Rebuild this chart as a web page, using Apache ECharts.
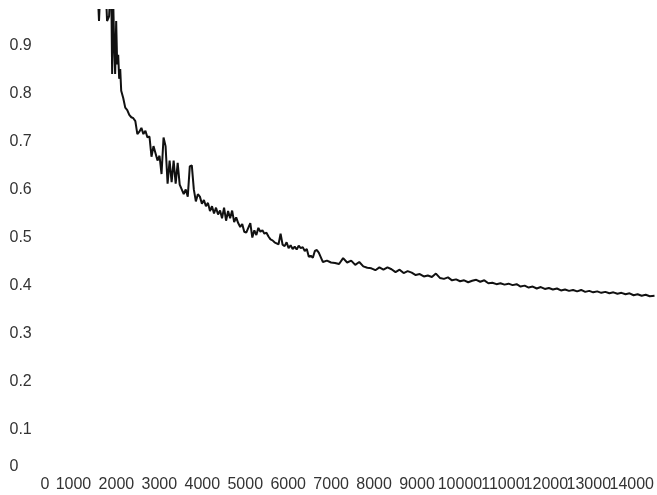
<!DOCTYPE html>
<html>
<head>
<meta charset="utf-8">
<style>
html,body{margin:0;padding:0;background:#fff;}
#chart{width:657px;height:495px;}
</style>
<script src="https://cdn.jsdelivr.net/npm/echarts@6/dist/echarts.min.js"></script>
</head>
<body>
<div id="chart"></div>
<script>
// x values (iterations)
const xValues = [
  1454,1548,1595,1642,1689,1736,1783,1830,1877,1901,1924,1948,1971,1995,2018,2042,2065,2089,
  2112,2159,2206,2253,2300,2347,2394,2441,2488,2535,2582,2629,2676,2723,2770,2817,2864,2911,
  2957,3004,3051,3098,3145,3192,3239,3286,3333,3380,3427,3474,3521,3568,3615,3662,3709,3756,
  3803,3850,3897,3944,3991,4038,4085,4132,4179,4226,4273,4320,4367,4414,4460,4507,4554,4601,
  4648,4695,4742,4789,4836,4883,4930,4977,5024,5071,5118,5165,5212,5259,5306,5353,5400,5447,
  5494,5541,5588,5635,5682,5729,5776,5823,5870,5917,5963,6010,6057,6104,6151,6198,6245,6292,
  6339,6386,6433,6480,6527,6574,6621,6668,6715,
  6809,6903,6997,7091,7185,7279,7373,7467,7561,7655,7749,7842,7936,8030,8124,8218,8312,8406,
  8500,8594,8688,8782,8876,8970,9064,9158,9252,9346,9440,9533,9627,9721,9815,9909,10003,
  10097,10191,10285,10379,10473,10567,10661,10755,10849,10943,11037,11131,11225,11319,11412,
  11506,11600,11694,11788,11882,11976,12070,12164,12258,12352,12446,12540,12634,12728,12822,
  12916,13010,13103,13197,13291,13385,13479,13573,13667,13761,13855,13949,14043,14137,14231,
  14325,14419,14530
];
// error values
const yValues = [
  1.15,1.05,0.95,1.05,1.1,1.05,0.95,0.96,1.05,0.84,1.0,0.9,0.84,0.95,0.86,0.88,0.83,0.85,
  0.805,0.79,0.77,0.765,0.755,0.75,0.748,0.742,0.715,0.72,0.728,0.715,0.722,0.708,0.71,0.668,0.69,0.675,
  0.66,0.67,0.632,0.708,0.69,0.612,0.66,0.615,0.66,0.612,0.655,0.61,0.60,0.59,0.60,0.585,0.648,0.65,
  0.60,0.575,0.59,0.585,0.57,0.578,0.565,0.572,0.555,0.565,0.55,0.562,0.548,0.556,0.54,0.562,0.535,0.555,
  0.54,0.556,0.532,0.542,0.53,0.522,0.528,0.512,0.51,0.52,0.53,0.5,0.515,0.505,0.52,0.512,0.515,0.508,
  0.51,0.502,0.496,0.494,0.49,0.488,0.486,0.508,0.485,0.482,0.49,0.478,0.484,0.476,0.481,0.475,0.483,0.478,
  0.48,0.472,0.476,0.46,0.462,0.458,0.472,0.474,0.468,
  0.449,0.452,0.448,0.447,0.445,0.457,0.448,0.452,0.443,0.449,0.44,0.437,0.436,0.432,0.438,0.433,0.438,0.434,
  0.428,0.433,0.426,0.43,0.427,0.422,0.424,0.419,0.421,0.418,0.425,0.416,0.414,0.417,0.411,0.413,0.409,
  0.411,0.407,0.41,0.412,0.408,0.411,0.405,0.406,0.403,0.405,0.402,0.404,0.401,0.403,0.398,
  0.4,0.396,0.398,0.394,0.397,0.393,0.395,0.392,0.394,0.39,0.392,0.389,0.391,0.388,0.391,
  0.387,0.389,0.386,0.388,0.385,0.387,0.384,0.386,0.383,0.385,0.382,0.384,0.38,0.382,0.379,
  0.381,0.378,0.379
];
const xTickStep = 1000;
const yTickStep = 0.1;

const chart = echarts.init(document.getElementById('chart'), null, {renderer: 'canvas'});
const labelFont = {
  fontFamily: "'Liberation Sans Narrow', 'Liberation Sans', Arial, sans-serif",
  fontSize: 16,
  color: '#333'
};
chart.setOption({
  animation: false,
  backgroundColor: '#fff',
  grid: {left: 30.5, right: 0, top: 10, bottom: 17, containLabel: false},
  xAxis: {
    type: 'value', min: 0, max: 14533, interval: xTickStep,
    axisLine: {show: false}, axisTick: {show: false}, splitLine: {show: false},
    axisLabel: Object.assign({}, labelFont, {margin: -1, showMaxLabel: false,
      formatter: v => v === 0 ? '{z|0}' : String(v),
      rich: {z: Object.assign({}, labelFont, {padding: [0, 0, 0, 29]})}
    })
  },
  yAxis: {
    type: 'value', min: 0, max: 0.973, interval: yTickStep,
    axisLine: {show: false}, axisTick: {show: false}, splitLine: {show: false},
    axisLabel: Object.assign({}, labelFont, {align: 'left', margin: 21, showMaxLabel: false,
      formatter: v => v === 0 ? '{z|0}' : String(Math.round(v * 10) / 10),
      rich: {z: Object.assign({}, labelFont, {padding: [0, 0, 22, 0]})}
    })
  },
  series: [{
    type: 'line',
    data: xValues.map((x, i) => [x, yValues[i]]),
    showSymbol: false,
    clip: true,
    lineStyle: {color: '#111', width: 2},
    itemStyle: {color: '#111'}
  }]
});
</script>
</body>
</html>
